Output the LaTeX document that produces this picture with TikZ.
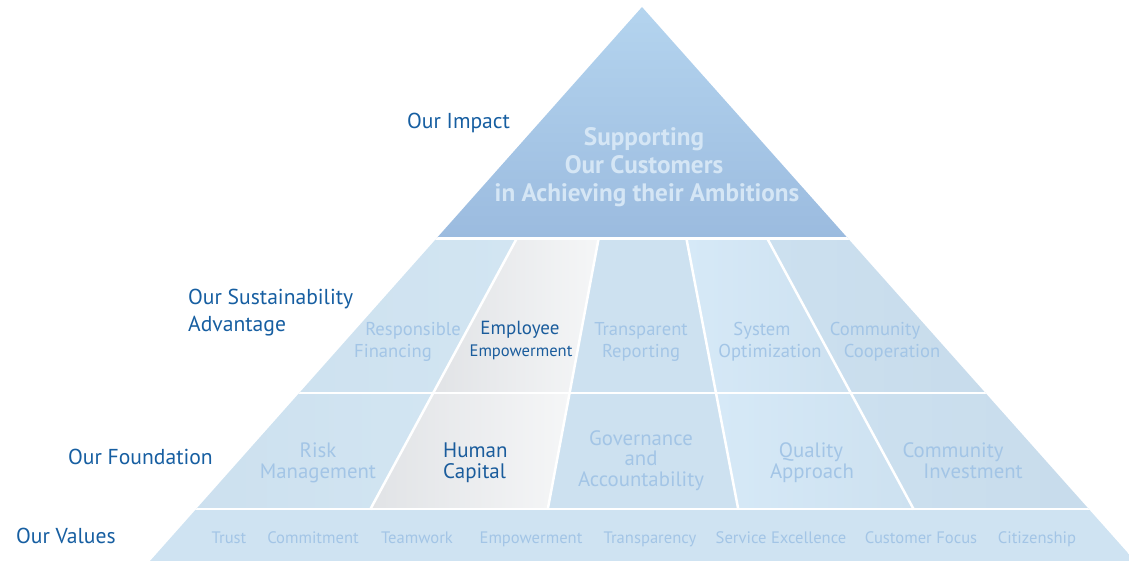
\documentclass[tikz,border=0pt]{standalone}
\usepackage{fontspec}
\setmainfont{PT Sans}
\definecolor{labelblue}{RGB}{22,94,161}
\definecolor{darktext}{RGB}{26,92,156}
\definecolor{celltext}{RGB}{163,197,230}
\definecolor{toptext}{RGB}{213,230,245}
\definecolor{topA}{RGB}{181,213,239}
\definecolor{topB}{RGB}{155,187,223}
\definecolor{cellL}{RGB}{202,222,237}
\definecolor{cellR}{RGB}{210,229,242}
\definecolor{cellM}{RGB}{205,225,240}
\definecolor{greyL}{RGB}{225,227,230}
\definecolor{greyR}{RGB}{245,246,247}
\definecolor{lightL}{RGB}{214,233,247}
\definecolor{commL}{RGB}{204,224,239}
\definecolor{commR}{RGB}{199,219,235}
\definecolor{valrow}{RGB}{207,227,242}
\tikzset{
  lbl/.style={anchor=base west, inner sep=0, text=labelblue, font=\fontsize{21.6}{26}\selectfont},
  ctext/.style={anchor=base, inner sep=0, text=celltext, font=\fontsize{18.6}{22}\selectfont},
  ftext/.style={anchor=base, inner sep=0, text=celltext, font=\fontsize{20.8}{24}\selectfont},
  dtext/.style={anchor=base, inner sep=0, text=darktext, font=\fontsize{19}{22}\selectfont},
  vtext/.style={anchor=base, inner sep=0, text=celltext, font=\fontsize{16.6}{20}\selectfont},
  ttext/.style={anchor=base, inner sep=0, text=toptext, font=\bfseries\fontsize{25.2}{29}\selectfont},
  gap/.style={white, line width=2.5pt},
}
\begin{document}
\begin{tikzpicture}[x=1pt,y=-1pt]
\useasboundingbox (0,0) rectangle (1129,561);
\coordinate (A) at (642,7);
\begin{scope}
\clip (A) -- (150,561) -- (1135,561) -- cycle;
% top triangle
\shade[top color=topA, bottom color=topB] (400,0) rectangle (900,238);
% row 2
\shade[left color=cellL, right color=cellR] (100,238) -- (517,238) -- (432.9,393.5) -- (100,393.5) -- cycle;
\shade[left color=greyL, right color=greyR] (517,238) -- (598.7,238) -- (569.5,393.5) -- (432.9,393.5) -- cycle;
\fill[cellM] (598.7,238) -- (686.3,238) -- (716.1,393.5) -- (569.5,393.5) -- cycle;
\shade[left color=lightL, right color=cellM] (686.3,238) -- (767,238) -- (851.1,393.5) -- (716.1,393.5) -- cycle;
\shade[left color=commL, right color=commR] (767,238) -- (1000,238) -- (1000,393.5) -- (851.1,393.5) -- cycle;
% row 3
\shade[left color=cellL, right color=cellR] (100,393.5) -- (432.9,393.5) -- (370.2,509.5) -- (100,509.5) -- cycle;
\shade[left color=greyL, right color=greyR] (432.9,393.5) -- (569.5,393.5) -- (547.7,509.5) -- (370.2,509.5) -- cycle;
\fill[cellM] (569.5,393.5) -- (716.1,393.5) -- (738.3,509.5) -- (547.7,509.5) -- cycle;
\shade[left color=lightL, right color=cellM] (716.1,393.5) -- (851.1,393.5) -- (913.8,509.5) -- (738.3,509.5) -- cycle;
\shade[left color=commL, right color=commR] (851.1,393.5) -- (1120,393.5) -- (1120,509.5) -- (913.8,509.5) -- cycle;
% row 4
\fill[valrow] (100,509.5) rectangle (1200,561);
% white gaps
\draw[white, line width=3pt] (100,238.5) -- (1200,238.5);
\draw[gap] (100,393) -- (1200,393);
\draw[gap] (100,509) -- (1200,509);
\draw[gap] (517,238) -- (370.2,509.5);
\draw[gap] (598.7,238) -- (547.7,509.5);
\draw[gap] (686.3,238) -- (738.3,509.5);
\draw[gap] (767,238) -- (913.8,509.5);
\end{scope}
% left labels
\node[lbl] (impact) at (407,129) {Our Impact};
\node[lbl] (sust1) at (188,304) {Our Sustainability};
\node[lbl] (sust2) at (188,331) {Advantage};
\node[lbl] (found) at (68,464) {Our Foundation};
\node[lbl] (values) at (16,543) {Our Values};
% top text
\node[ttext] (t1) at (644,146) {Supporting};
\node[ttext] (t2) at (644,174) {Our Customers};
\node[ttext] (t3) at (647,202) {in Achieving their Ambitions};
% row 2
\node[ctext] (r1a) at (413,335) {Responsible};
\node[ctext] (r1b) at (393,357) {Financing};
\node[dtext] (r2a) at (520,334) {Employee};
\node[dtext, font=\fontsize{16.6}{20}\selectfont] (r2b) at (521,356) {Empowerment};
\node[ctext] (r3a) at (641,335) {Transparent};
\node[ctext] (r3b) at (641,357) {Reporting};
\node[ctext] (r4a) at (762,335) {System};
\node[ctext] (r4b) at (770,357) {Optimization};
\node[ctext] (r5a) at (875,335) {Community};
\node[ctext] (r5b) at (892,357) {Cooperation};
% row 3
\node[ftext] (f1a) at (318,457) {Risk};
\node[ftext] (f1b) at (318,478) {Management};
\node[dtext, anchor=base west, font=\fontsize{21}{24}\selectfont] (f2a) at (443,457) {Human};
\node[dtext, anchor=base west, font=\fontsize{21}{24}\selectfont] (f2b) at (443,478) {Capital};
\node[ftext] (f3a) at (641,445) {Governance};
\node[ftext] (f3b) at (641,465) {and};
\node[ftext] (f3c) at (641,486) {Accountability};
\node[ftext] (f4a) at (811,457) {Quality};
\node[ftext] (f4b) at (812,478) {Approach};
\node[ftext] (f5a) at (953,457) {Community};
\node[ftext] (f5b) at (973,478) {Investment};
% values row
\node[vtext] (v1) at (229,543) {Trust};
\node[vtext] (v2) at (313,543) {Commitment};
\node[vtext] (v3) at (417,543) {Teamwork};
\node[vtext] (v4) at (531,543) {Empowerment};
\node[vtext] (v5) at (650,543) {Transparency};
\node[vtext] (v6) at (781,543) {Service Excellence};
\node[vtext] (v7) at (921,543) {Customer Focus};
\node[vtext] (v8) at (1037,543) {Citizenship};
\end{tikzpicture}
\end{document}
